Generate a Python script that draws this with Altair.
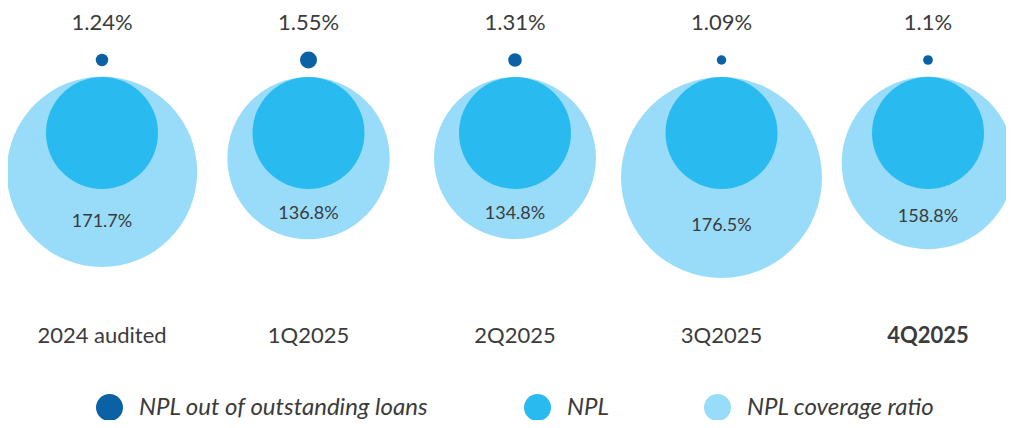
import altair as alt
import pandas as pd

# ---- data ----
periods = ["2024 audited", "1Q2025", "2Q2025", "3Q2025", "4Q2025"]
npl_ratio = [1.24, 1.55, 1.31, 1.09, 1.1]            # NPL out of outstanding loans (%)
coverage_ratio = [171.7, 136.8, 134.8, 176.5, 158.8]  # NPL coverage ratio (%)
series_names = ["NPL out of outstanding loans", "NPL", "NPL coverage ratio"]
series_colors = ["#0A61A3", "#29BBF0", "#99DCFA"]
highlight_period = "4Q2025"

df = pd.DataFrame({"period": periods, "npl_ratio": npl_ratio, "coverage": coverage_ratio})

FONT = "Lato"
TEXT = "#3b3b3b"

x = alt.X("period:N", sort=periods,
          scale=alt.Scale(type="point", domain=periods, range=[94, 920], padding=0),
          axis=None)
color_scale = alt.Scale(domain=series_names, range=series_colors)
legend = alt.Legend(title=None, orient="none", legendX=88, legendY=386,
                    direction="horizontal", symbolType="circle", symbolSize=729,
                    symbolStrokeWidth=0, symbolOpacity=1, labelFont=FONT,
                    labelFontSize=24, labelFontStyle="italic", labelColor=TEXT,
                    labelOffset=16, columnPadding=95, padding=0, labelLimit=0)
color = alt.Color("series:N", scale=color_scale, legend=legend)

cov_domain = [min(coverage_ratio), max(coverage_ratio)]
ratio_domain = [min(npl_ratio), max(npl_ratio)]

base = alt.Chart(df)

coverage_layer = base.transform_calculate(series="'NPL coverage ratio'").mark_circle(opacity=1).encode(
    x=x,
    y=alt.Y("coverage:Q", axis=None,
            scale=alt.Scale(type="pow", exponent=12, domain=cov_domain, range=[150, 169.5], zero=False)),
    size=alt.Size("coverage:Q", legend=None,
                  scale=alt.Scale(type="pow", exponent=12, domain=cov_domain, range=[26244, 40401], zero=False)),
    color=color,
)

npl_layer = base.transform_calculate(series="'NPL'").mark_circle(opacity=1).encode(
    x=x,
    y=alt.value(125),
    size=alt.value(12544),
    color=color,
)

dot_layer = base.transform_calculate(series="'NPL out of outstanding loans'").mark_circle(opacity=1).encode(
    x=x,
    y=alt.value(52),
    size=alt.Size("npl_ratio:Q", legend=None,
                  scale=alt.Scale(domain=ratio_domain, range=[90, 289], zero=False)),
    color=color,
)

top_labels = base.transform_calculate(lbl="datum.npl_ratio + '%'").mark_text(
    font=FONT, fontSize=22, color=TEXT, baseline="middle", align="center"
).encode(x=x, y=alt.value(14.5), text="lbl:N")

inner_labels = base.transform_calculate(lbl="datum.coverage + '%'").mark_text(
    font=FONT, fontSize=18, color=TEXT, baseline="middle", align="center"
).encode(
    x=x,
    y=alt.Y("coverage:Q", axis=None,
            scale=alt.Scale(type="pow", exponent=12, domain=cov_domain, range=[206, 218], zero=False)),
    text="lbl:N",
)

cat_labels = base.transform_filter(alt.datum.period != highlight_period).mark_text(
    font=FONT, fontSize=22, color=TEXT, baseline="middle", align="center"
).encode(x=x, y=alt.value(328), text="period:N")

cat_bold = base.transform_filter(alt.datum.period == highlight_period).mark_text(
    font=FONT, fontSize=22, fontWeight="bold", color=TEXT, baseline="middle", align="center"
).encode(x=x, y=alt.value(328), text="period:N")

chart = alt.layer(
    coverage_layer, npl_layer, dot_layer, top_labels, inner_labels, cat_labels, cat_bold
).resolve_scale(
    y="independent", size="independent"
).properties(
    width=998, height=412, padding=0,
    autosize=alt.AutoSizeParams(type="none"),
).configure_view(stroke=None)

chart.save("out.html", embed_options={"renderer": "svg", "actions": False})
